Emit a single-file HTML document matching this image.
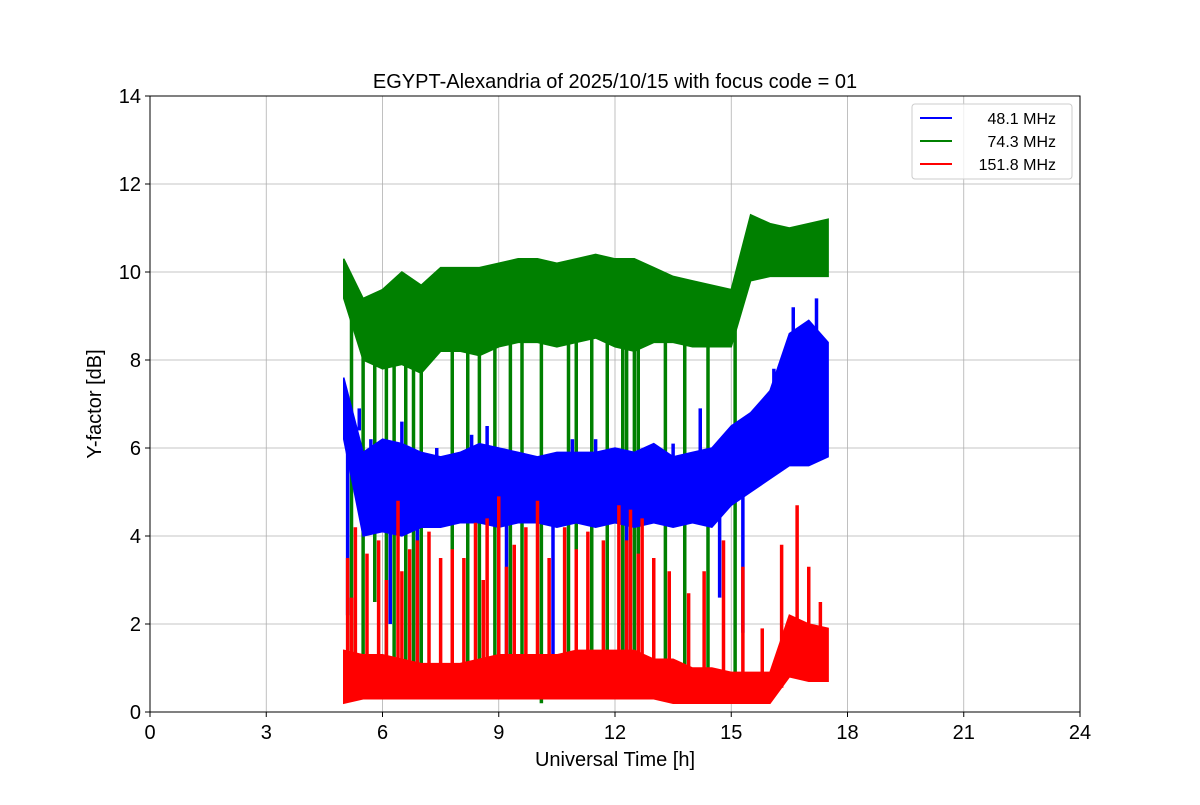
<!DOCTYPE html>
<html><head><meta charset="utf-8"><style>
body{margin:0;background:#fff;font-family:"Liberation Sans","DejaVu Sans",sans-serif}
</style></head><body>
<svg id="chart" width="1200" height="800" xmlns="http://www.w3.org/2000/svg"></svg>
<script>
const times=[5,5.5,6,6.5,7,7.5,8,8.5,9,9.5,10,10.5,11,11.5,12,12.5,13,13.5,14,14.5,15,15.5,16,16.5,17,17.5];
const greenLow=[9.4,8.0,7.8,7.9,7.7,8.2,8.2,8.1,8.3,8.4,8.4,8.3,8.4,8.5,8.3,8.2,8.4,8.4,8.3,8.3,8.3,9.8,9.9,9.9,9.9,9.9];
const greenHigh=[10.3,9.4,9.6,10.0,9.7,10.1,10.1,10.1,10.2,10.3,10.3,10.2,10.3,10.4,10.3,10.3,10.1,9.9,9.8,9.7,9.6,11.3,11.1,11.0,11.1,11.2];
const blueLow=[6.2,4.0,4.1,4.0,4.2,4.2,4.3,4.3,4.2,4.3,4.3,4.2,4.3,4.2,4.3,4.2,4.3,4.2,4.3,4.2,4.7,5.0,5.3,5.6,5.6,5.8];
const blueHigh=[7.6,5.9,6.2,6.1,5.9,5.8,5.9,6.1,6.0,5.9,5.8,5.9,5.9,5.9,6.0,5.9,6.1,5.8,5.9,6.0,6.5,6.8,7.3,8.6,8.9,8.4];
const redLow=[0.2,0.3,0.3,0.3,0.3,0.3,0.3,0.3,0.3,0.3,0.3,0.3,0.3,0.3,0.3,0.3,0.3,0.2,0.2,0.2,0.2,0.2,0.2,0.8,0.7,0.7];
const redHigh=[1.4,1.3,1.3,1.2,1.1,1.1,1.1,1.2,1.3,1.3,1.3,1.3,1.4,1.4,1.4,1.4,1.2,1.2,1.0,1.0,0.9,0.9,0.9,2.2,2.0,1.9];
const greenDropT=[5.2,5.5,5.8,6.1,6.3,6.6,6.8,7.0,7.8,8.2,8.5,8.9,9.3,9.6,10.1,10.8,11.0,11.4,11.8,12.2,12.3,12.5,12.6,13.3,13.8,14.4,15.1];
const greenDropV=[0.6,0.5,2.5,0.5,0.4,0.3,0.4,0.6,0.8,0.5,0.6,0.5,0.4,0.6,0.2,0.5,0.4,0.5,0.6,0.3,0.4,0.5,0.3,0.6,0.7,0.5,0.6];
const blueSpikeT=[5.1,5.4,5.7,6.0,6.2,6.5,6.9,7.4,8.0,8.3,8.7,9.2,9.9,10.4,10.9,11.5,12.3,12.9,13.5,14.2,14.7,15.3,16.1,16.6,17.2];
const blueSpikeV=[2.2,6.4,6.2,4.9,2.0,6.6,0.6,6.0,4.8,6.3,6.5,1.2,5.5,0.6,6.2,6.2,0.5,6.0,6.1,6.9,2.6,1.8,7.8,9.2,9.4];
const redSpikeT=[5.1,5.2,5.3,5.6,5.9,6.1,6.4,6.5,6.7,6.9,7.2,7.5,7.8,8.1,8.4,8.6,8.7,9.0,9.2,9.4,9.7,10.0,10.3,10.7,11.0,11.3,11.7,12.1,12.3,12.4,12.6,12.7,13.0,13.4,13.9,14.3,14.8,15.3,15.8,16.3,16.7,17.0,17.3];
const redSpikeV=[3.5,2.6,4.2,3.6,3.9,3.0,4.8,3.2,3.7,3.9,4.1,3.5,3.7,3.5,4.3,3.0,4.4,4.9,3.3,3.8,4.2,4.8,3.5,4.2,3.7,4.1,3.9,4.7,3.9,4.6,3.6,4.4,3.5,3.2,2.7,3.2,3.9,3.3,1.9,3.8,4.7,3.3,2.5];
const xTicks=[0,3,6,9,12,15,18,21,24];
const yTicks=[0,2,4,6,8,10,12,14];

const NS="http://www.w3.org/2000/svg",svg=document.getElementById('chart');
const L=150,R=1080,T=96,B=712;
const X=t=>L+(t-0)/24*(R-L), Y=v=>B-(v/14)*(B-T);
function el(tag,attrs,parent){const e=document.createElementNS(NS,tag);for(const k in attrs)e.setAttribute(k,attrs[k]);(parent||svg).appendChild(e);return e;}
const grid=el('g',{});


xTicks.forEach(t=>{
 const l=el('line',{x1:X(t),x2:X(t),y1:T,y2:B,stroke:'#b0b0b0','stroke-width':0.8},grid);
 
 
 el('line',{x1:X(t),x2:X(t),y1:B,y2:B+5,stroke:'#000'});
 const tx=el('text',{x:X(t),y:B+27,'text-anchor':'middle','font-size':20});
 
 
 tx.textContent=t;
});
yTicks.forEach(v=>{
 const l=el('line',{x1:L,x2:R,y1:Y(v),y2:Y(v),stroke:'#b0b0b0','stroke-width':0.8},grid);
 
 
 el('line',{x1:L-5,x2:L,y1:Y(v),y2:Y(v),stroke:'#000'});
 const tx=el('text',{x:L-9,y:Y(v)+7,'text-anchor':'end','font-size':20});
 
 
 tx.textContent=v;
});
function band(lo,hi,color,name){
 let p=times.map((t,i)=>X(t)+','+Y(hi[i]));
 p=p.concat(times.map((t,i)=>X(t)+','+Y(lo[i])).reverse());
 const g=el('polygon',{points:p.join(' '),fill:color,stroke:color,'stroke-width':1.5});
 
 
}
function spikes(ts,vs,base,color,name){
 ts.forEach((t,i)=>{
  let j=0;while(j<times.length-1&&times[j+1]<=t)j++;
  const from=base[j];
  const l=el('line',{x1:X(t),x2:X(t),y1:Y(from),y2:Y(vs[i]),stroke:color,'stroke-width':3.5});
  
  
 });
}
const mid=(a,b)=>a.map((v,i)=>(v+b[i])/2);
band(greenLow,greenHigh,'#008000','series-74-3-mhz');
spikes(greenDropT,greenDropV,mid(greenLow,greenHigh),'#008000','green-dropout');
band(blueLow,blueHigh,'#0000ff','series-48-1-mhz');
spikes(blueSpikeT,blueSpikeV,mid(blueLow,blueHigh),'#0000ff','blue-spike');
band(redLow,redHigh,'#ff0000','series-151-8-mhz');
spikes(redSpikeT,redSpikeV,mid(redLow,redHigh),'#ff0000','red-spike');
const fr=el('rect',{x:L,y:T,width:R-L,height:B-T,fill:'none',stroke:'#000','stroke-width':1});


function txt(s,attrs,name){const t=el('text',attrs);t.textContent=s;return t;}
txt('EGYPT-Alexandria of 2025/10/15 with focus code = 01',{x:615,y:88,'text-anchor':'middle','font-size':20},'chart-title');
txt('Universal Time [h]',{x:615,y:766,'text-anchor':'middle','font-size':20},'x-axis-title');
txt('Y-factor [dB]',{x:101,y:404,'text-anchor':'middle','font-size':20,transform:'rotate(-90 101 404)'},'y-axis-title');
const lg=el('g',{});


el('rect',{x:912,y:104,width:160,height:75,rx:3,fill:'#fff','fill-opacity':0.8,stroke:'#ccc'},lg);
[['48.1 MHz','#0000ff',118],['74.3 MHz','#008000',141],['151.8 MHz','#ff0000',164]].forEach(([s,c,y])=>{
 const g=el('g',{},lg);
 
 
 el('line',{x1:920,x2:952,y1:y,y2:y,stroke:c,'stroke-width':2},g);
 const t=el('text',{x:1056,y:y+6,'text-anchor':'end','font-size':16},g);t.textContent=s;
});
</script>
</body></html>
